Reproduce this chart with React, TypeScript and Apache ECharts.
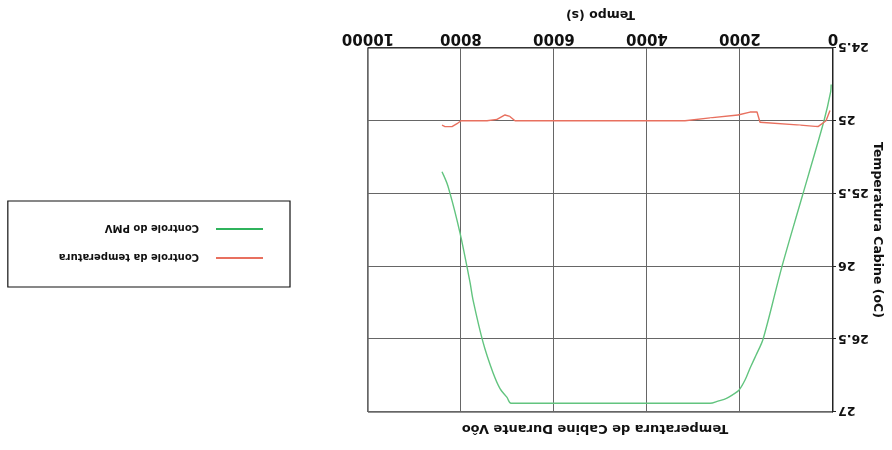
import React, { useEffect, useRef } from "react";
import * as echarts from "echarts";

const title = "Temperatura de Cabine Durante Vôo";
const xName = "Tempo (s)";
const yName = "Temperatura Cabine (oC)";
const seriesNames = ["Controle da temperatura", "Controle do PMV"];

const redTime = [65, 150, 322, 700, 1570, 1634, 1785, 2043, 2645, 3183, 6839, 6950, 7054, 7226, 7441, 8000, 8086, 8194, 8344, 8409];
const redTemp = [24.93, 25.0, 25.04, 25.03, 25.01, 24.94, 24.94, 24.96, 24.98, 25.0, 25.0, 24.97, 24.96, 24.99, 25.0, 25.0, 25.02, 25.04, 25.04, 25.03];

const pmvTime = [40, 50, 194, 645, 1097, 1505, 1656, 1785, 1892, 2022, 2150, 2280, 2473, 2645, 6925, 7011, 7161, 7312, 7527, 7742, 7806, 8022, 8280, 8409];
const pmvTemp = [24.75, 24.8, 25.0, 25.5, 26.0, 26.5, 26.61, 26.7, 26.78, 26.85, 26.88, 26.905, 26.925, 26.94, 26.94, 26.9, 26.84, 26.73, 26.52, 26.23, 26.11, 25.77, 25.45, 25.35];

const FONT = "'DejaVu Sans', 'Liberation Sans', sans-serif";

export default function App() {
  const ref = useRef<HTMLDivElement>(null);
  useEffect(() => {
    if (!ref.current) return;
    const chart = echarts.init(ref.current, null, { renderer: "svg" });
    const zip = (a: number[], b: number[]) => a.map((v, i) => [v, b[i]]);
    chart.setOption({
      animation: false,
      backgroundColor: "#fff",
      textStyle: { fontFamily: FONT },
      title: {
        text: title,
        left: 292,
        textAlign: "center",
        top: 9,
        textStyle: { fontFamily: FONT, fontSize: 13, fontWeight: "bold", color: "#111" },
      },
      legend: {
        orient: "vertical",
        left: 602,
        top: 163,
        padding: [22, 51, 21, 27],
        borderColor: "#111",
        borderWidth: 1.2,
        itemGap: 15,
        itemWidth: 47,
        itemHeight: 2,
        icon: "rect",
        textStyle: { fontFamily: FONT, fontSize: 10, fontWeight: "bold", color: "#111", lineHeight: 14, padding: [0, 0, 0, 12] },
        data: seriesNames,
      },
      grid: {
        left: 59,
        right: 368,
        top: 38,
        bottom: 48,
        show: true,
        borderColor: "#222",
        borderWidth: 1,
        containLabel: false,
        outerBoundsMode: "none",
      },
      xAxis: {
        type: "value",
        min: 0,
        max: 10000,
        interval: 2000,
        name: xName,
        nameLocation: "middle",
        nameGap: 26,
        nameMoveOverlap: false,
        nameTextStyle: { fontFamily: FONT, fontSize: 12.5, fontWeight: "bold", color: "#111" },
        axisLine: { show: true, lineStyle: { color: "#333" } },
        axisTick: { show: false },
        axisLabel: { fontFamily: FONT, fontSize: 15, fontWeight: "bold", color: "#111", margin: 1, formatter: (v: number) => String(v) },
        splitLine: { show: true, lineStyle: { color: "#666", width: 1 } },
      },
      yAxis: {
        type: "value",
        min: 24.5,
        max: 27,
        interval: 0.5,
        name: yName,
        nameLocation: "middle",
        nameGap: 39,
        nameMoveOverlap: false,
        nameTextStyle: { fontFamily: FONT, fontSize: 12.5, fontWeight: "bold", color: "#111" },
        axisLine: { show: true, lineStyle: { color: "#222" } },
        axisTick: { show: true, length: 3, lineStyle: { color: "#222" } },
        axisLabel: { fontFamily: FONT, fontSize: 12.5, fontWeight: "bold", color: "#111", margin: 5, formatter: (v: number) => String(v) },
        splitLine: { show: true, lineStyle: { color: "#666", width: 1 } },
      },
      series: [
        {
          name: seriesNames[0],
          type: "line",
          data: zip(redTime, redTemp),
          showSymbol: false,
          lineStyle: { color: "#e8705f", width: 1.4 },
          itemStyle: { color: "#e8705f" },
          z: 3,
        },
        {
          name: seriesNames[1],
          type: "line",
          data: zip(pmvTime, pmvTemp),
          showSymbol: false,
          smooth: 0.3,
          lineStyle: { color: "#62c47f", width: 1.4 },
          itemStyle: { color: "#2fb35c" },
          z: 2,
        },
      ],
    });
    return () => chart.dispose();
  }, []);
  return (
    <div
      style={{
        position: "fixed",
        left: 0,
        top: 0,
        width: 892,
        height: 450,
        background: "#fff",
        transform: "rotate(180deg)",
      }}
    >
      <div ref={ref} style={{ width: 892, height: 450 }} />
    </div>
  );
}
